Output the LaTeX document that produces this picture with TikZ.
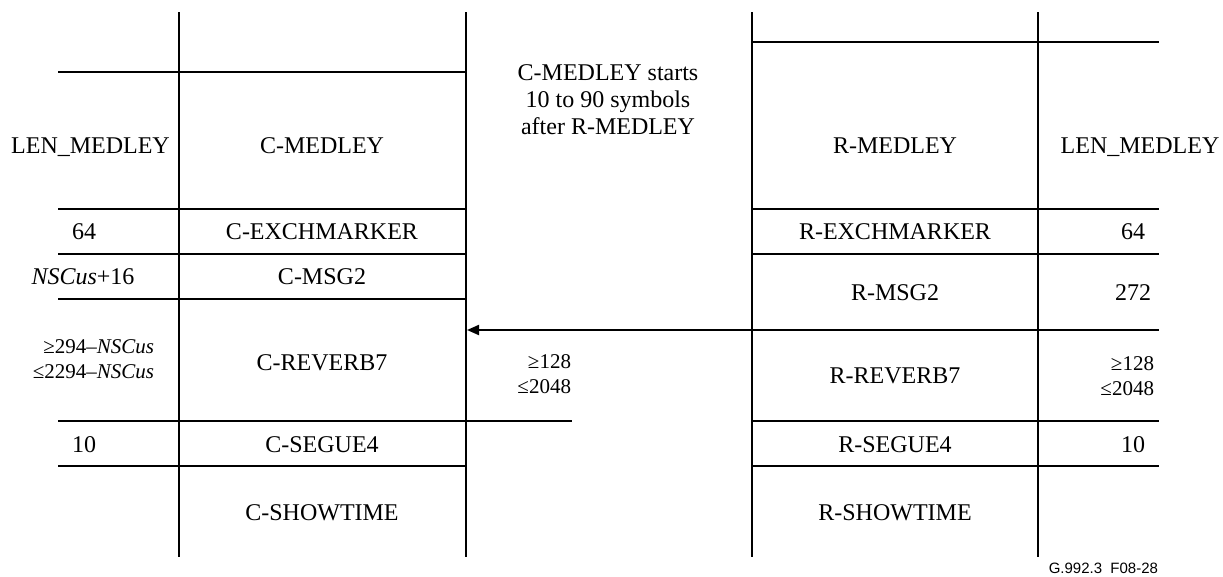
\documentclass[tikz,border=0pt]{standalone}
\usepackage{fontspec}
\setmainfont{Liberation Serif}
\newfontfamily\labelfont{Liberation Sans}
\usetikzlibrary{arrows.meta}
\begin{document}
\begin{tikzpicture}[x=1pt,y=-1pt,line width=2pt,
  big/.style={inner sep=0pt,font=\fontsize{24}{27}\selectfont,text height=16pt,text depth=0pt},
  multi/.style={inner sep=0pt,font=\fontsize{24}{27}\selectfont,align=center},
  small/.style={inner sep=0pt,font=\fontsize{21}{25}\selectfont,align=right,anchor=east},
  figlabel/.style={inner sep=0pt,font=\labelfont\fontsize{15}{18}\selectfont,anchor=east},
  arr/.style={-{Triangle[length=12pt,width=10pt]}}]
\useasboundingbox (0,0) rectangle (1223,576);
% vertical lines
\draw (179,12) -- (179,557);
\draw (466,12) -- (466,557);
\draw (752,12) -- (752,557);
\draw (1038,12) -- (1038,557);
% left horizontal lines
\foreach \yy in {72,209,254,299,466} \draw (58,\yy) -- (466,\yy);
\draw (58,421) -- (572,421);
% right horizontal lines
\foreach \yy in {42,209,254,330,421,466} \draw (752,\yy) -- (1159,\yy);
% left column texts
\node[big] (lenL) at (90.5,145) {LEN\_MEDLEY};
\node[big] (l64) at (84,231) {64};
\node[big] (lnsc) at (83,276) {\textit{NSCus}+16};
\node[small] (lrev) at (155,359) {≥294–\textit{NSCus}\\≤2294–\textit{NSCus}};
\node[big] (l10) at (84,444) {10};
% C column
\node[big] (cmed) at (322,145) {C-MEDLEY};
\node[big] (cexc) at (322,231) {C-EXCHMARKER};
\node[big] (cmsg) at (322,276) {C-MSG2};
\node[big] (crev) at (322,362) {C-REVERB7};
\node[big] (cseg) at (322,444) {C-SEGUE4};
\node[big] (csho) at (322,512) {C-SHOWTIME};
% middle
\node[multi] (note) at (608,100) {C-MEDLEY starts\\10 to 90 symbols\\after R-MEDLEY};
\node[small] (mrev) at (572,374) {≥128\\≤2048};
% R column
\node[big] (rmed) at (895,145) {R-MEDLEY};
\node[big] (rexc) at (895,231) {R-EXCHMARKER};
\node[big] (rmsg) at (895,292) {R-MSG2};
\node[big] (rrev) at (895,375) {R-REVERB7};
\node[big] (rseg) at (895,444) {R-SEGUE4};
\node[big] (rsho) at (895,512) {R-SHOWTIME};
% right column texts
\node[big] (lenR) at (1140,145) {LEN\_MEDLEY};
\node[big] (r64) at (1133,231) {64};
\node[big] (r272) at (1133,292) {272};
\node[small] (rrevn) at (1155,376) {≥128\\≤2048};
\node[big] (r10) at (1133,444) {10};
% arrow
\coordinate (aS) at (752,330);
\coordinate (aE) at (467,330);
\draw[arr] (aS) -- (aE);
% figure label
\node[figlabel] (fig) at (1159,568) {G.992.3\ \ F08-28};
\end{tikzpicture}
\end{document}
